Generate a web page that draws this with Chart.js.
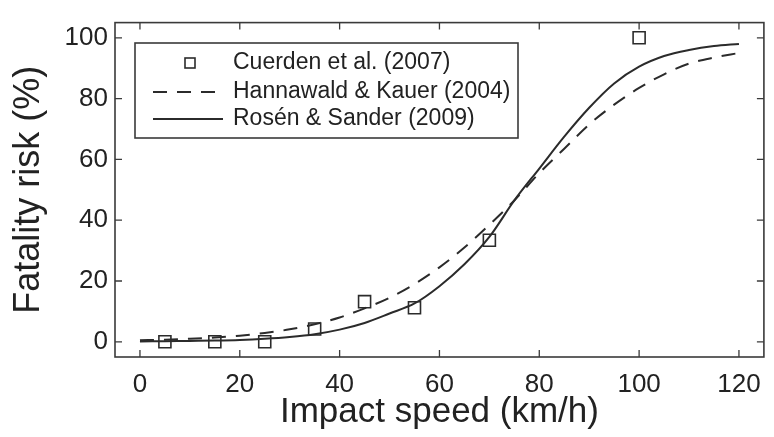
<!DOCTYPE html>
<html>
<head>
<meta charset="utf-8">
<script src="https://cdn.jsdelivr.net/npm/chart.js@4"></script>
<style>
  html, body { margin: 0; padding: 0; background: #fff; }
  #wrap { width: 774px; height: 437px; }
</style>
</head>
<body>
<div id="wrap"><canvas id="myChart" width="774" height="437"></canvas></div>
<script>
// values
const speedTicks = [0, 20, 40, 60, 80, 100, 120];
const riskTicks = [0, 20, 40, 60, 80, 100];

// Cuerden et al. (2007) - observed points
const cuerdenSpeed = [5, 15, 25, 35, 45, 55, 70, 100];
const cuerdenRisk = [0, 0, 0, 4.2, 13.2, 11.2, 33.4, 100];

// sampled curve readings (every 5 km/h)
const curveSpeed = [0, 5, 10, 15, 20, 25, 30, 35, 40, 45, 50, 55, 60, 65, 70, 75, 80, 85, 90, 95, 100, 105, 110, 115, 120];
const hannawaldRisk = [0.5, 0.7, 1.0, 1.4, 2.0, 2.9, 4.1, 5.8, 8.0, 11, 14.5, 19, 24.5, 31, 38.5, 46.5, 55.5, 63.5, 71.5, 78, 83.5, 88, 91.5, 93.5, 95];
const rosenRisk = [0.1, 0.2, 0.3, 0.4, 0.6, 1.0, 1.6, 2.5, 4.0, 6.2, 9.3, 12.6, 18.3, 25.5, 34.5, 46.5, 57, 67.5, 77, 85, 90.5, 94, 96, 97.3, 98];

const labels = ['Cuerden et al. (2007)', 'Hannawald & Kauer (2004)', 'Rosén & Sander (2009)'];

const toXY = (xs, ys) => xs.map((x, i) => ({ x: x, y: ys[i] }));

const ink = '#2b2b2b';
const FONT = "'Liberation Sans', Arial, sans-serif";

// box, inward ticks on all four sides and the legend inside the plot
const matlabBox = {
    id: 'matlabBox',
    afterDraw(chart) {
        const { ctx, chartArea: a, scales } = chart;
        ctx.save();
        ctx.strokeStyle = '#3a3a3a';
        ctx.lineWidth = 1.6;
        ctx.strokeRect(a.left, a.top, a.right - a.left, a.bottom - a.top);
        ctx.lineWidth = 1.3;
        const t = 7;
        ctx.beginPath();
        speedTicks.forEach(v => {
            const px = scales.x.getPixelForValue(v);
            ctx.moveTo(px, a.bottom); ctx.lineTo(px, a.bottom - t);
            ctx.moveTo(px, a.top); ctx.lineTo(px, a.top + t);
        });
        riskTicks.forEach(v => {
            const py = scales.y.getPixelForValue(v);
            ctx.moveTo(a.left, py); ctx.lineTo(a.left + t, py);
            ctx.moveTo(a.right, py); ctx.lineTo(a.right - t, py);
        });
        ctx.stroke();

        // legend
        const lx = 135, ly = 43, lw = 383, lh = 95;
        ctx.fillStyle = '#fff';
        ctx.fillRect(lx, ly, lw, lh);
        ctx.lineWidth = 1.6;
        ctx.strokeStyle = '#3a3a3a';
        ctx.strokeRect(lx, ly, lw, lh);
        const rows = [63, 92, 119];
        ctx.font = '23px ' + FONT;
        ctx.fillStyle = '#222';
        ctx.textBaseline = 'middle';
        ctx.textAlign = 'left';
        chart.data.datasets.forEach((ds, i) => {
            const y = rows[i];
            ctx.fillText(ds.label, 233, y);
            ctx.strokeStyle = ds.borderColor;
            if (ds.showLine) {
                ctx.lineWidth = ds.borderWidth;
                ctx.setLineDash(ds.borderDash || []);
                ctx.beginPath();
                ctx.moveTo(153, y); ctx.lineTo(223, y);
                ctx.stroke();
                ctx.setLineDash([]);
            } else {
                ctx.lineWidth = ds.pointBorderWidth;
                ctx.strokeRect(190 - 5, y - 5, 10, 10);
            }
        });
        ctx.restore();
    }
};

const ctx = document.getElementById('myChart').getContext('2d');

const myChart = new Chart(ctx, {
    type: 'scatter',
    data: {
        datasets: [{
            label: labels[0],
            data: toXY(cuerdenSpeed, cuerdenRisk),
            showLine: false,
            pointStyle: 'rect',
            pointRadius: 8.5,
            pointBorderWidth: 1.6,
            borderColor: ink,
            pointBorderColor: ink,
            pointBackgroundColor: 'rgba(0,0,0,0)'
        }, {
            label: labels[1],
            data: toXY(curveSpeed, hannawaldRisk),
            showLine: true,
            borderColor: ink,
            borderWidth: 2,
            borderDash: [14, 10],
            pointRadius: 0,
            cubicInterpolationMode: 'monotone'
        }, {
            label: labels[2],
            data: toXY(curveSpeed, rosenRisk),
            showLine: true,
            borderColor: ink,
            borderWidth: 2,
            pointRadius: 0,
            cubicInterpolationMode: 'monotone'
        }]
    },
    options: {
        responsive: false,
        animation: false,
        layout: { padding: { top: 14, right: 9, left: 0, bottom: 0 } },
        plugins: {
            legend: { display: false },
            tooltip: { enabled: false }
        },
        scales: {
            x: {
                type: 'linear',
                min: -5,
                max: 125,
                afterBuildTicks: s => { s.ticks = speedTicks.map(v => ({ value: v })); },
                afterFit: s => { s.height = 80; },
                grid: { display: false, drawTicks: false },
                border: { display: false },
                ticks: { color: '#222', padding: 12, font: { family: FONT, size: 26 } },
                title: {
                    display: true,
                    text: 'Impact speed (km/h)',
                    color: '#222',
                    padding: { top: 0, bottom: 4 },
                    font: { family: FONT, size: 35 }
                }
            },
            y: {
                min: -5,
                max: 105,
                afterBuildTicks: s => { s.ticks = riskTicks.map(v => ({ value: v })); },
                afterFit: s => { s.width = 115; },
                grid: { display: false, drawTicks: false },
                border: { display: false },
                ticks: { color: '#222', padding: 7, font: { family: FONT, size: 26 } },
                title: {
                    display: true,
                    text: 'Fatality risk (%)',
                    color: '#222',
                    padding: { top: 7, bottom: 0 },
                    font: { family: FONT, size: 36 }
                }
            }
        }
    },
    plugins: [matlabBox]
});
</script>
</body>
</html>
